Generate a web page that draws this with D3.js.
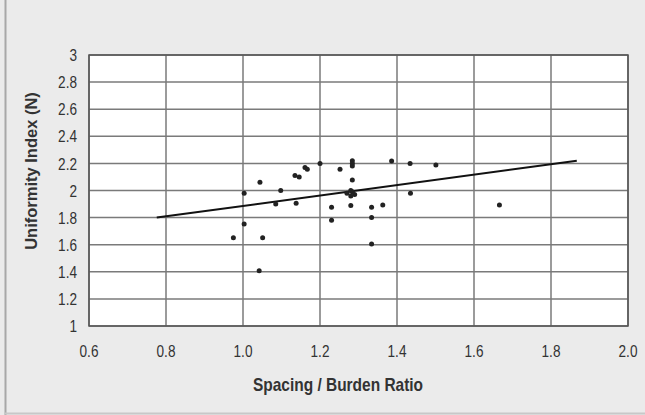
<!DOCTYPE html>
<html>
<head>
<meta charset="utf-8">
<script src="https://cdn.jsdelivr.net/npm/d3@7"></script>
<style>
  body { margin: 0; background: #ebebeb; }
  #chart text { font-family: "Liberation Sans", Arial, sans-serif; }
</style>
</head>
<body>
<div id="chart"></div>
<script>
var width = 645,
    height = 415;

var margin = {top: 55, right: 17, bottom: 89, left: 89};

// spacing / burden ratio for each blast
var spacing = [1.044, 1.003, 1.098, 1.085, 1.138, 1.135, 1.146, 1.161, 1.167, 1.2,
               1.003, 0.975, 1.051, 1.042, 1.252, 1.284, 1.284, 1.284, 1.284, 1.284,
               1.27, 1.28, 1.29, 1.28, 1.28, 1.23, 1.23, 1.334, 1.334, 1.334,
               1.363, 1.386, 1.434, 1.435, 1.501, 1.666];
// uniformity index n
var uniformity = [2.06, 1.98, 2.0, 1.9, 1.905, 2.11, 2.1, 2.17, 2.156, 2.2,
                  1.753, 1.652, 1.652, 1.408, 2.156, 2.22, 2.2, 2.18, 2.077, 1.99,
                  1.98, 2.0, 1.97, 1.96, 1.89, 1.876, 1.78, 1.876, 1.8, 1.605,
                  1.893, 2.218, 2.2, 1.98, 2.188, 1.893];

// linear trend line end points
var trendX = [0.776, 1.867];
var trendY = [1.8, 2.22];

var xTicks = [0.6, 0.8, 1.0, 1.2, 1.4, 1.6, 1.8, 2.0];
var yTicks = [1, 1.2, 1.4, 1.6, 1.8, 2, 2.2, 2.4, 2.6, 2.8, 3];

var svg = d3.select("#chart")
  .append("svg")
    .attr("width", width)
    .attr("height", height);

// outer frame lines
svg.append("line")
  .attr("x1", 5.5).attr("x2", 5.5).attr("y1", 0).attr("y2", height)
  .attr("stroke", "#a8a8a8").attr("stroke-width", 2);
svg.append("line")
  .attr("x1", 5).attr("x2", width).attr("y1", height - 1.5).attr("y2", height - 1.5)
  .attr("stroke", "#c8c8c8").attr("stroke-width", 2);

var x = d3.scaleLinear()
  .domain([0.6, 2.0])
  .range([margin.left, width - margin.right]);

var y = d3.scaleLinear()
  .domain([1, 3])
  .range([height - margin.bottom, margin.top]);

// plot area
svg.append("rect")
  .attr("x", x(0.6)).attr("y", y(3))
  .attr("width", x(2.0) - x(0.6))
  .attr("height", y(1) - y(3))
  .attr("fill", "#fff");

// gridlines
svg.append("g")
  .selectAll("line")
  .data(yTicks)
  .join("line")
    .attr("x1", x(0.6)).attr("x2", x(2.0))
    .attr("y1", function(d) { return y(d); })
    .attr("y2", function(d) { return y(d); })
    .attr("stroke", "#7a7a7a")
    .attr("stroke-width", 1.5);

svg.append("g")
  .selectAll("line")
  .data(xTicks)
  .join("line")
    .attr("x1", function(d) { return x(d); })
    .attr("x2", function(d) { return x(d); })
    .attr("y1", y(1)).attr("y2", y(3))
    .attr("stroke", "#7a7a7a")
    .attr("stroke-width", 1.5);

// plot border
svg.append("rect")
  .attr("x", x(0.6)).attr("y", y(3))
  .attr("width", x(2.0) - x(0.6))
  .attr("height", y(1) - y(3))
  .attr("fill", "none")
  .attr("stroke", "#555")
  .attr("stroke-width", 1.5);

// tick labels (narrow, like the original)
svg.append("g")
  .selectAll("text")
  .data(yTicks)
  .join("text")
    .attr("transform", function(d) { return "translate(" + (x(0.6) - 12) + "," + y(d) + ") scale(0.8,1)"; })
    .attr("dy", "0.36em")
    .attr("text-anchor", "end")
    .attr("font-size", 17)
    .attr("fill", "#333")
    .text(function(d) { return d3.format("~g")(d); });

svg.append("g")
  .selectAll("text")
  .data(xTicks)
  .join("text")
    .attr("transform", function(d) { return "translate(" + x(d) + "," + (y(1) + 25) + ") scale(0.8,1)"; })
    .attr("dy", "0.36em")
    .attr("text-anchor", "middle")
    .attr("font-size", 17)
    .attr("fill", "#333")
    .text(function(d) { return d3.format(".1f")(d); });

// axis titles
svg.append("text")
  .attr("transform", "translate(338,385) scale(0.86,1)")
  .attr("dy", "0.36em")
  .attr("text-anchor", "middle")
  .attr("font-size", 18)
  .attr("font-weight", "bold")
  .attr("fill", "#333")
  .text("Spacing / Burden Ratio");

svg.append("text")
  .attr("transform", "translate(31,171) rotate(-90)")
  .attr("dy", "0.36em")
  .attr("text-anchor", "middle")
  .attr("font-size", 16.5)
  .attr("font-weight", "bold")
  .attr("fill", "#333")
  .text("Uniformity Index (N)");

// trend line
svg.append("line")
  .attr("x1", x(trendX[0])).attr("y1", y(trendY[0]))
  .attr("x2", x(trendX[1])).attr("y2", y(trendY[1]))
  .attr("stroke", "#111")
  .attr("stroke-width", 2);

// data points
svg.append("g")
  .selectAll("circle")
  .data(d3.zip(spacing, uniformity))
  .join("circle")
    .attr("cx", function(d) { return x(d[0]); })
    .attr("cy", function(d) { return y(d[1]); })
    .attr("r", 2.5)
    .attr("fill", "#222");
</script>
</body>
</html>
